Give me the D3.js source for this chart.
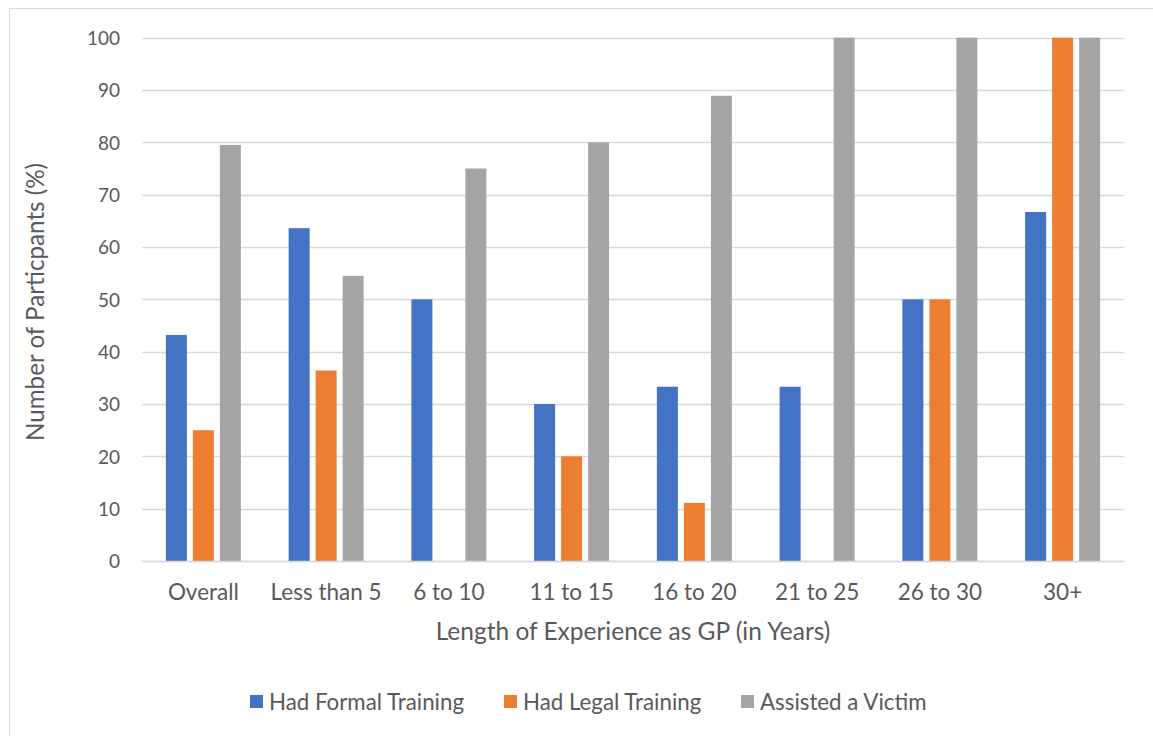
<!DOCTYPE html>
<html>
<head>
<meta charset="utf-8">
<script src="https://cdn.jsdelivr.net/npm/d3@7"></script>
<style>
  html, body { margin: 0; padding: 0; background: #fff; }
  svg { display: block; }
  text { font-family: Lato, "Open Sans", sans-serif; fill: #595959; }
</style>
</head>
<body>
<svg id="chart" width="1153" height="736"></svg>
<script>
// Share of GPs by length of experience (percent)
const categories = ["Overall", "Less than 5", "6 to 10", "11 to 15", "16 to 20", "21 to 25", "26 to 30", "30+"];
const seriesNames = ["Had Formal Training", "Had Legal Training", "Assisted a Victim"];
const formalTraining = [43.2, 63.6, 50, 30, 33.3, 33.3, 50, 66.7];
const legalTraining  = [25, 36.4, 0, 20, 11.1, 0, 50, 100];
const assistedVictim = [79.5, 54.5, 75, 80, 88.9, 100, 100, 100];
const yTicks = [0, 10, 20, 30, 40, 50, 60, 70, 80, 90, 100];
const colors = ["#4472C4", "#ED7D31", "#A5A5A5"];

const seriesValues = [formalTraining, legalTraining, assistedVictim];

const svg = d3.select("#chart");

// outer chart frame
svg.append("rect")
  .attr("x", 9.5).attr("y", 8.5)
  .attr("width", 1160).attr("height", 740)
  .attr("fill", "none").attr("stroke", "#d9d9d9").attr("stroke-width", 1);

const plot = { left: 142, right: 1124, top: 37.7, bottom: 561 };

const y = d3.scaleLinear().domain([0, 100]).range([plot.bottom, plot.top]);
const x0 = d3.scaleBand().domain(categories).range([plot.left, plot.right]).padding(0);
const groupWidth = 75;
const groupOffset = (x0.bandwidth() - groupWidth) / 2;
const x1 = d3.scaleBand().domain(seriesNames)
  .range([groupOffset, groupOffset + groupWidth])
  .paddingInner(6 / 27).paddingOuter(0);

// horizontal gridlines
svg.append("g")
  .selectAll("line")
  .data(yTicks)
  .join("line")
  .attr("x1", plot.left).attr("x2", plot.right)
  .attr("y1", d => Math.round(y(d)) + 0.5).attr("y2", d => Math.round(y(d)) + 0.5)
  .attr("stroke", "#d9d9d9").attr("stroke-width", 1.3);

// y-axis tick labels
const yAxis = d3.axisLeft(y).tickValues(yTicks).tickSize(0).tickPadding(0);
const gy = svg.append("g").attr("transform", `translate(${plot.left - 22},0)`).call(yAxis);
gy.select(".domain").remove();
gy.selectAll("text")
  .attr("font-size", 19).attr("font-family", "Lato, sans-serif").attr("fill", "#595959")
  .attr("dy", "0.36em");

// bars
const groups = svg.append("g")
  .selectAll("g")
  .data(categories)
  .join("g")
  .attr("transform", d => `translate(${x0(d)},0)`);

groups.selectAll("rect")
  .data((d, i) => seriesNames.map((s, j) => ({ series: s, value: seriesValues[j][i], color: colors[j] })))
  .join("rect")
  .attr("x", d => x1(d.series))
  .attr("width", x1.bandwidth())
  .attr("y", d => y(d.value))
  .attr("height", d => y(0) - y(d.value))
  .attr("fill", d => d.color);

// x-axis baseline and category labels
const xAxis = d3.axisBottom(x0).tickSize(0).tickPadding(0);
const gx = svg.append("g").attr("transform", `translate(0,${plot.bottom})`).call(xAxis);
gx.select(".domain").attr("stroke", "#d9d9d9").attr("stroke-width", 1.3);
gx.selectAll("text")
  .attr("font-size", 22.5).attr("font-family", "Lato, sans-serif").attr("fill", "#595959")
  .attr("dy", 0).attr("y", 39);

// axis titles
svg.append("text")
  .attr("x", 633)
  .attr("y", 640)
  .attr("text-anchor", "middle")
  .attr("font-size", 24.5)
  .text("Length of Experience as GP (in Years)");

svg.append("text")
  .attr("transform", `translate(44,302) rotate(-90)`)
  .attr("text-anchor", "middle")
  .attr("font-size", 24.2)
  .text("Number of Particpants (%)");

// legend
const legendX = [250, 504, 741];
const legend = svg.append("g")
  .selectAll("g")
  .data(seriesNames)
  .join("g")
  .attr("transform", (d, i) => `translate(${legendX[i]},702)`);
legend.append("rect")
  .attr("x", 0).attr("y", -7).attr("width", 13).attr("height", 13)
  .attr("fill", (d, i) => colors[i]);
legend.append("text")
  .attr("x", 19).attr("y", 0).attr("dy", "0.35em")
  .attr("font-size", 22.3)
  .text(d => d);
</script>
</body>
</html>
